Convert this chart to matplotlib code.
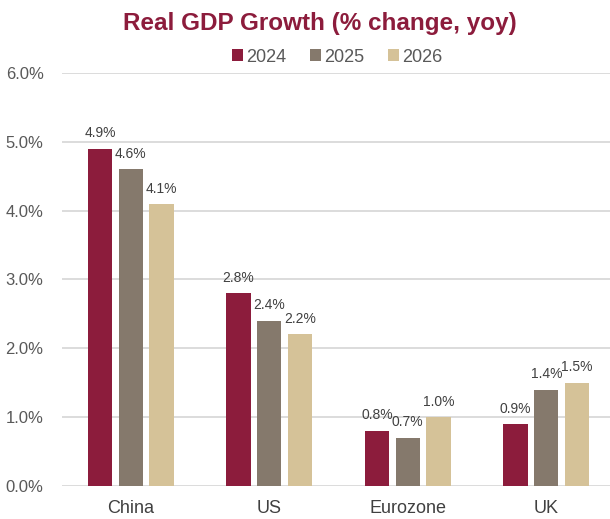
import numpy as np
import matplotlib.pyplot as plt

plt.rcParams['font.family'] = ['Liberation Sans', 'DejaVu Sans']

regions = ['China', 'US', 'Eurozone', 'UK']
years = ['2024', '2025', '2026']
growth_2024 = [4.9, 2.8, 0.8, 0.9]
growth_2025 = [4.6, 2.4, 0.7, 1.4]
growth_2026 = [4.1, 2.2, 1.0, 1.5]
colors = ['#8C1C3C', '#85796C', '#D5C298']

fig = plt.figure(figsize=(6.1, 5.19), dpi=100)
ax = fig.add_axes([0.101, 0.064, 0.908, 0.795])

x = np.arange(len(regions))
w = 0.175
step = 0.222
for i, (vals, c, lab) in enumerate(zip([growth_2024, growth_2025, growth_2026], colors, years)):
    bars = ax.bar(x + (i - 1) * step, vals, w, color=c, label=lab, zorder=3)
    for b, v in zip(bars, vals):
        ax.annotate('%.1f%%' % v, (b.get_x() + b.get_width() / 2, v),
                    xytext=(0, 6), textcoords='offset points',
                    ha='center', va='bottom', fontsize=10, color='#404040', zorder=4)

ax.set_ylim(0, 6)
ax.set_xlim(-0.5, 3.5)
ax.set_yticks(np.arange(0, 7, 1))
ax.set_yticklabels(['%.1f%%' % t for t in np.arange(0, 7, 1)])
ax.set_xticks(x)
ax.set_xticklabels(regions)
ax.grid(axis='y', color='#D9D9D9', lw=1.3, zorder=0)
for s in ax.spines.values():
    s.set_visible(False)
ax.tick_params(axis='both', length=0, colors='#595959')
ax.tick_params(axis='y', labelsize=12, pad=13)
ax.tick_params(axis='x', labelsize=13, pad=10, labelcolor='#404040')

fig.text(0.525, 0.955, 'Real GDP Growth (% change, yoy)', ha='center', va='center',
         fontsize=17.5, fontweight='bold', color='#8C1C3C')
fig.legend(loc='center', bbox_to_anchor=(0.553, 0.89), ncol=3, frameon=False,
           fontsize=13, handlelength=0.6, handleheight=0.6, handletextpad=0.2,
           columnspacing=1.3, labelcolor='#595959')

fig.savefig('out.png', dpi=100)
